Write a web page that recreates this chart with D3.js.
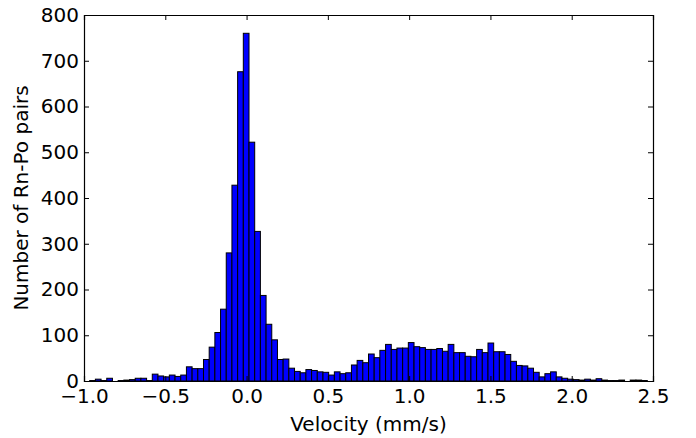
<!DOCTYPE html>
<html>
<head>
<meta charset="utf-8">
<script src="https://cdn.jsdelivr.net/npm/d3@7"></script>
<style>
  body { margin: 0; background: #fff; }
  svg text { font-family: "DejaVu Sans", sans-serif; }
</style>
</head>
<body>
<div id="chart"></div>
<script>
const width = 696, height = 438
const margin = {top: 15, right: 43, bottom: 57, left: 84}

// histogram: 100 bins of 0.035 mm/s starting at -1.0
const binStart = -1.0
const binWidth = 0.035
const counts = [
    0, 1, 4, 1, 6, 0, 1, 2, 3, 6,
    6, 1, 15, 11, 9, 13, 10, 13, 31, 27,
    27, 47, 74, 106, 157, 280, 428, 676, 760, 522,
    327, 187, 124, 90, 47, 48, 28, 21, 18, 25,
    23, 20, 19, 13, 20, 16, 18, 35, 45, 40,
    59, 51, 67, 80, 69, 72, 72, 84, 75, 73,
    69, 69, 71, 65, 80, 62, 62, 54, 53, 69,
    62, 83, 64, 64, 58, 43, 34, 33, 28, 19,
    9, 16, 20, 9, 6, 4, 3, 2, 4, 2,
    5, 2, 1, 1, 2, 0, 2, 2, 1, 0
]
const xTicks = [-1.0, -0.5, 0.0, 0.5, 1.0, 1.5, 2.0, 2.5]
const yTicks = [0, 100, 200, 300, 400, 500, 600, 700, 800]

const bins = counts.map((c, i) => ({x0: binStart + i * binWidth, x1: binStart + (i + 1) * binWidth, n: c}))

const w = width - margin.left - margin.right
const h = height - margin.top - margin.bottom

const xScale = d3.scaleLinear().domain([-1.0, 2.5]).range([0, w])
const yScale = d3.scaleLinear().domain([0, 800]).range([h, 0])

const svg = d3.select("#chart").append("svg")
    .attr("width", width)
    .attr("height", height)
const g = svg.append("g")
    .attr("transform", "translate(" + margin.left + "," + margin.top + ")")

g.selectAll(".bar")
    .data(bins)
    .enter().append("rect")
    .attr("class", "bar")
    .attr("x", d => xScale(d.x0))
    .attr("width", d => xScale(d.x1) - xScale(d.x0))
    .attr("y", d => yScale(d.n))
    .attr("height", d => yScale(0) - yScale(d.n))
    .attr("fill", "#0000ff")
    .attr("stroke", "black")
    .attr("stroke-width", 1)

const fmt = d3.format(".1f")

// axes, ticks pointing inward (classic matplotlib look)
const xb = g.append("g")
    .attr("transform", "translate(0," + h + ")")
    .call(d3.axisBottom(xScale).tickValues(xTicks).tickFormat(fmt).tickSize(-5).tickPadding(8))
const xt = g.append("g")
    .call(d3.axisTop(xScale).tickValues(xTicks).tickFormat("").tickSize(-5))
const yl = g.append("g")
    .call(d3.axisLeft(yScale).tickValues(yTicks).tickSize(-5).tickPadding(5))
const yr = g.append("g")
    .attr("transform", "translate(" + w + ",0)")
    .call(d3.axisRight(yScale).tickValues(yTicks).tickFormat("").tickSize(-5))

;[xb, xt, yl, yr].forEach(a => {
    a.select(".domain").attr("stroke", "black").attr("stroke-width", 1.2)
    a.selectAll(".tick line").attr("stroke", "black").attr("stroke-width", 1)
    a.selectAll(".tick text")
        .attr("fill", "black")
        .style("font-size", "20px")
        .style("font-family", "DejaVu Sans, sans-serif")
})

svg.append("text")
    .attr("x", margin.left + w / 2)
    .attr("y", 431)
    .attr("text-anchor", "middle")
    .style("font-size", "20px")
    .text("Velocity (mm/s)")

svg.append("text")
    .attr("transform", "translate(28," + (margin.top + h / 2) + ") rotate(-90)")
    .attr("text-anchor", "middle")
    .style("font-size", "20px")
    .text("Number of Rn-Po pairs")
</script>
</body>
</html>
